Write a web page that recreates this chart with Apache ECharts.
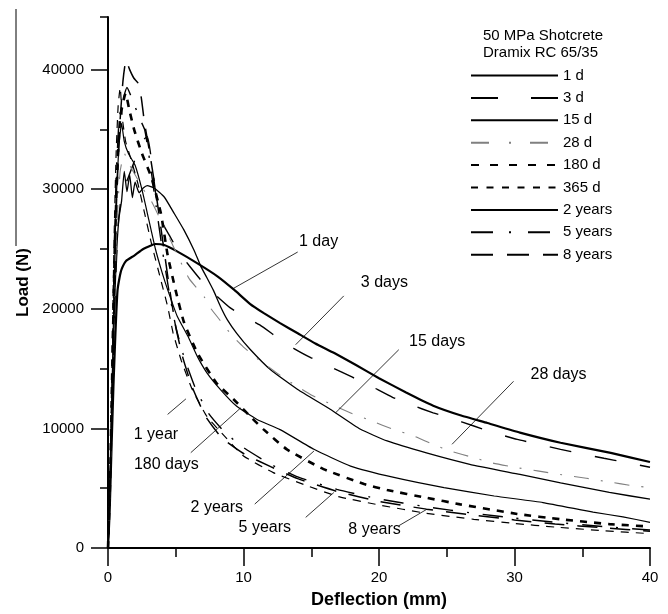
<!DOCTYPE html>
<html><head><meta charset="utf-8">
<script src="https://cdn.jsdelivr.net/npm/echarts@6/dist/echarts.min.js"></script>
<style>html,body{margin:0;padding:0;background:#fff}#c{width:668px;height:614px}</style>
</head><body><div id="c"></div>
<script>
// ---------- DATA ----------
const seriesNames = ['1 d','3 d','15 d','28 d','180 d','365 d','2 years','5 years','8 years'];
const legendTitle = '50 MPa Shotcrete\nDramix RC 65/35';
const xAxisName = 'Deflection (mm)';
const yAxisName = 'Load (N)';
const xMajorTicks = [0,10,20,30,40];
const xMinorTicks = [5,15,25,35];
const yMajorTicks = [0,10000,20000,30000,40000];
const yMinorTicks = [5000,15000,25000,35000,44400];

const d1 = [[0,0],[0.12,3000],[0.25,8000],[0.4,13500],[0.55,18000],[0.7,21500],[0.85,22600],[1.0,23300],[1.33,24000],[1.94,24450],[2.6,25000],[3.5,25420],[4.15,25330],[5.1,24800],[6.6,23800],[8.1,22700],[9.3,21600],[10.5,20400],[11.5,19640],[12.7,18800],[14,17950],[15.3,17100],[16.7,16300],[18.3,15300],[20,14200],[22,13000],[24,11900],[26,11100],[28,10450],[30.4,9650],[33.4,8800],[37.1,7950],[40,7190]];
const d3 = [[0,0],[0.15,5000],[0.35,14000],[0.55,22000],[0.75,27000],[1.0,29500],[1.5,31000],[2.0,32500],[2.5,34000],[2.9,34400],[3.2,32500],[3.6,29000],[4.1,27000],[4.6,26000],[5.2,24800],[6.0,23600],[7.0,22200],[7.8,21300],[9.0,20100],[10,19400],[11.2,18650],[12.5,17600],[13.7,16700],[15,15900],[16.5,15100],[18,14300],[19.3,13600],[21,12600],[22.3,12000],[24,11300],[25.3,10850],[27,10200],[28.3,9700],[30.2,9080],[31.7,8700],[33.4,8250],[34.8,7920],[36.6,7500],[38,7200],[40,6750]];
const d15 = [[0,0],[0.15,5000],[0.3,12000],[0.45,19000],[0.6,24000],[0.8,27500],[1.0,29000],[1.2,31500],[1.4,29800],[1.6,31200],[1.8,29300],[2.0,30600],[2.3,29700],[2.6,30100],[2.9,30300],[3.4,30100],[4.15,29350],[4.9,27950],[5.6,26600],[6.35,24900],[6.85,23550],[7.3,22600],[7.8,21500],[8.3,20200],[8.8,19100],[9.5,17950],[10.5,16600],[12,14900],[14,13250],[16.4,11600],[18.6,9950],[20.6,8950],[23.5,7950],[26.7,7000],[30.4,6150],[33.4,5450],[37,4650],[40,4080]];
const d28 = [[0,0],[0.15,5000],[0.3,13000],[0.5,22000],[0.7,28000],[0.9,31500],[1.2,33000],[1.6,32000],[2.1,31000],[2.6,30000],[3.2,29000],[3.9,27400],[4.5,26000],[5.2,24300],[6.0,22500],[7.1,21000],[7.6,20000],[8.3,19000],[9.2,17700],[10,16800],[11,15850],[12.5,14600],[13.9,13550],[15,12800],[16.5,12000],[18,11250],[19.5,10600],[21,9950],[22.6,9350],[24,8650],[25.3,8100],[27,7550],[28.4,7100],[30,6750],[31.7,6450],[33.5,6120],[35.3,5830],[37,5520],[38.5,5250],[40,5050]];
const d180 = [[0,0],[0.15,5500],[0.3,14000],[0.5,25000],[0.7,32000],[0.9,36000],[1.3,38000],[1.6,36500],[1.95,34900],[2.5,33000],[3.2,31000],[3.9,28000],[4.4,24500],[5.0,21500],[5.6,18900],[6.6,16300],[8,13800],[9.3,12400],[10.5,11000],[11.5,9900],[13.2,8250],[15.9,6600],[18.9,5350],[20.6,4850],[23.5,4200],[26,3650],[30.2,2850],[33.4,2400],[37,2000],[40,1800]];
const d365 = [[0,0],[0.15,6000],[0.3,16000],[0.45,26000],[0.6,33000],[0.75,37000],[0.9,38500],[1.05,36000],[1.3,34000],[1.7,32500],[2.2,30500],[2.7,28000],[3.2,25500],[3.9,22400],[4.4,20200],[4.8,18000],[5.4,15700],[6.2,13300],[7.3,11000],[8.6,9350],[10,7700],[12.2,6300],[14.7,5200],[17,4300],[20,3600],[23.5,2900],[27,2400],[30,2050],[33,1750],[36.5,1450],[40,1200]];
const y2 = [[0,0],[0.15,5000],[0.3,13000],[0.45,22000],[0.6,29000],[0.8,33500],[1.0,35500],[1.2,34000],[1.5,33000],[2.0,32000],[2.5,30000],[3.0,27500],[3.5,25000],[4.0,23000],[4.4,21600],[5.1,19400],[5.9,17700],[6.6,16000],[7.3,14650],[8.3,13250],[9.5,11850],[11,10750],[12.7,9900],[15.2,8250],[17.9,6850],[21.1,5900],[24.8,5050],[28.5,4350],[32.1,3800],[35.8,3000],[38,2600],[40,2150]];
const y5 = [[0,0],[0.15,5000],[0.3,14000],[0.45,24000],[0.6,31000],[0.8,35500],[1.0,37000],[1.4,38500],[1.8,37500],[2.3,36000],[2.7,35000],[3.0,33000],[3.5,29000],[4.0,25000],[4.5,21500],[5.0,18500],[5.6,16000],[6.4,13500],[7.4,11300],[8.6,9700],[10,8400],[12,7000],[14,5950],[16.9,4900],[20,4100],[23.5,3450],[27,2900],[30,2500],[33,2150],[36.5,1800],[40,1500]];
const y8 = [[0,0],[0.2,7000],[0.4,18000],[0.6,28000],[0.85,35000],[1.1,39000],[1.33,40800],[1.6,40000],[1.9,39300],[2.2,38900],[2.45,37700],[2.7,35500],[3.05,33250],[3.5,30000],[4.0,26000],[4.5,22000],[5.0,18500],[5.5,16000],[6.2,13500],[7.2,11000],[8.4,9200],[10,7900],[12,6800],[14,5800],[17,4700],[20,3900],[23.5,3250],[27,2750],[30,2350],[33,2000],[36.5,1700],[40,1400]];
const seriesData = [d1,d3,d15,d28,d180,d365,y2,y5,y8];

// annotation labels (data coordinates) and leader lines
const annoText = ['1 day','3 days','15 days','28 days','1 year','180 days','2 years','5 years','8 years'];
const annoTextAt = [[15.54,25580],[20.4,22170],[24.29,17280],[33.25,14500],[3.54,9500],[4.31,7000],[8.03,3390],[11.57,1720],[19.67,1580]];
const annoLeaderFrom = [[14.0,24750],[17.4,21080],[21.46,16580],[29.93,13940],[4.4,11170],[6.11,7970],[10.83,3670],[14.59,2560],[21.46,1860]];
const annoLeaderTo = [[9.2,21670],[13.85,17000],[16.8,11310],[25.39,8670],[5.75,12470],[9.8,11720],[15.2,8110],[16.67,4640],[23.55,3250]];

// ---------- STYLES ----------
const FONT = '"Liberation Sans", Arial, Helvetica, sans-serif';
const lineStyles = [
  {color:'#000', width:2.2, type:'solid'},
  {color:'#000', width:1.4, type:[22,24]},
  {color:'#000', width:1.3, type:'solid'},
  {color:'#808080', width:1.1, type:[15,12,2,12]},
  {color:'#000', width:2.6, type:[7,7]},
  {color:'#000', width:1.2, type:[8,7]},
  {color:'#000', width:1.2, type:'solid'},
  {color:'#000', width:1.4, type:[20,14,2,14]},
  {color:'#000', width:1.5, type:[20,13]}
];
const legendDash = ['solid',[27,33],'solid',[18,20,2,19],[8,11],[7,8.5],'solid',[22,16,2,17],[22,14]];

const chart = echarts.init(document.getElementById('c'), null, {renderer:'canvas'});
const tickStyle = {color:'#000', width:1.5};
const plainNum = v => String(v);
const series = seriesNames.map((n,i)=>({
  name:n, type:'line', data:seriesData[i], xAxisIndex:0, yAxisIndex:0,
  symbol:'none', showSymbol:false, smooth:0.15,
  lineStyle:lineStyles[i], itemStyle:{color:lineStyles[i].color},
  emphasis:{disabled:true}, silent:true, z:2
}));
series.push({
  name:'annotations', type:'scatter', xAxisIndex:0, yAxisIndex:0,
  data: annoTextAt.map((p,i)=>({value:p, name:annoText[i]})),
  symbol:'circle', symbolSize:0, itemStyle:{color:'#000', opacity:1}, silent:true, z:5,
  emphasis:{disabled:true},
  label:{show:true, position:[0,0], align:'center', verticalAlign:'middle', formatter:'{b}',
    fontSize:16, color:'#000', opacity:1, textBorderWidth:0, fontFamily:FONT},
  markLine:{
    silent:true, symbol:['none','none'], animation:false,
    label:{show:false},
    lineStyle:{color:'#000', width:0.8, type:'solid', opacity:1},
    emphasis:{disabled:true},
    data: annoLeaderFrom.map((p,i)=>[{coord:p},{coord:annoLeaderTo[i]}])
  }
});

chart.setOption({
  animation:false,
  backgroundColor:'#fff',
  textStyle:{fontFamily:FONT},
  grid:{left:108, right:18, top:17, bottom:65, containLabel:false},
  title:{text:legendTitle, left:483, top:27, padding:0,
    textStyle:{fontSize:15, fontWeight:'normal', color:'#000', lineHeight:17, fontFamily:FONT}},
  legend:{
    orient:'vertical', left:470, top:68, padding:0,
    itemWidth:87, itemHeight:14, itemGap:7.4,
    itemStyle:{opacity:0, borderWidth:0},
    textStyle:{fontSize:15, color:'#000', lineHeight:14, fontFamily:FONT},
    data: seriesNames.map((n,i)=>({name:n, lineStyle:{type:legendDash[i]}})),
    selectedMode:false
  },
  xAxis:[
    {type:'value', min:0, max:40, position:'bottom',
     axisLine:{show:true, onZero:false, lineStyle:{color:'#000', width:2}},
     axisTick:{show:true, customValues:xMajorTicks, length:18, lineStyle:tickStyle},
     axisLabel:{customValues:xMajorTicks, formatter:plainNum, margin:22, fontSize:15, color:'#000', fontFamily:FONT},
     splitLine:{show:false},
     name:xAxisName, nameLocation:'middle', nameGap:43,
     nameTextStyle:{fontSize:18, fontWeight:'bold', color:'#000', fontFamily:FONT}},
    {type:'value', min:0, max:40, position:'bottom',
     axisLine:{show:false, onZero:false},
     axisTick:{show:true, customValues:xMinorTicks, length:9, lineStyle:tickStyle},
     axisLabel:{show:false}, splitLine:{show:false}}
  ],
  yAxis:[
    {type:'value', min:0, max:44400, position:'left',
     axisLine:{show:true, onZero:false, lineStyle:{color:'#000', width:2}},
     axisTick:{show:true, customValues:yMajorTicks, length:17, lineStyle:tickStyle},
     axisLabel:{customValues:yMajorTicks, formatter:plainNum, margin:24, fontSize:15, color:'#000', fontFamily:FONT},
     splitLine:{show:false},
     name:yAxisName, nameLocation:'middle', nameGap:70,
     nameTextStyle:{fontSize:17, fontWeight:'bold', color:'#000', fontFamily:FONT}},
    {type:'value', min:0, max:44400, position:'left',
     axisLine:{show:false, onZero:false},
     axisTick:{show:true, customValues:yMinorTicks, length:8, lineStyle:tickStyle},
     axisLabel:{show:false}, splitLine:{show:false}}
  ],
  graphic:[{type:'line', shape:{x1:16, y1:9, x2:16, y2:246}, style:{stroke:'#000', lineWidth:1}, silent:true}],
  series: series
});
</script>
</body></html>
